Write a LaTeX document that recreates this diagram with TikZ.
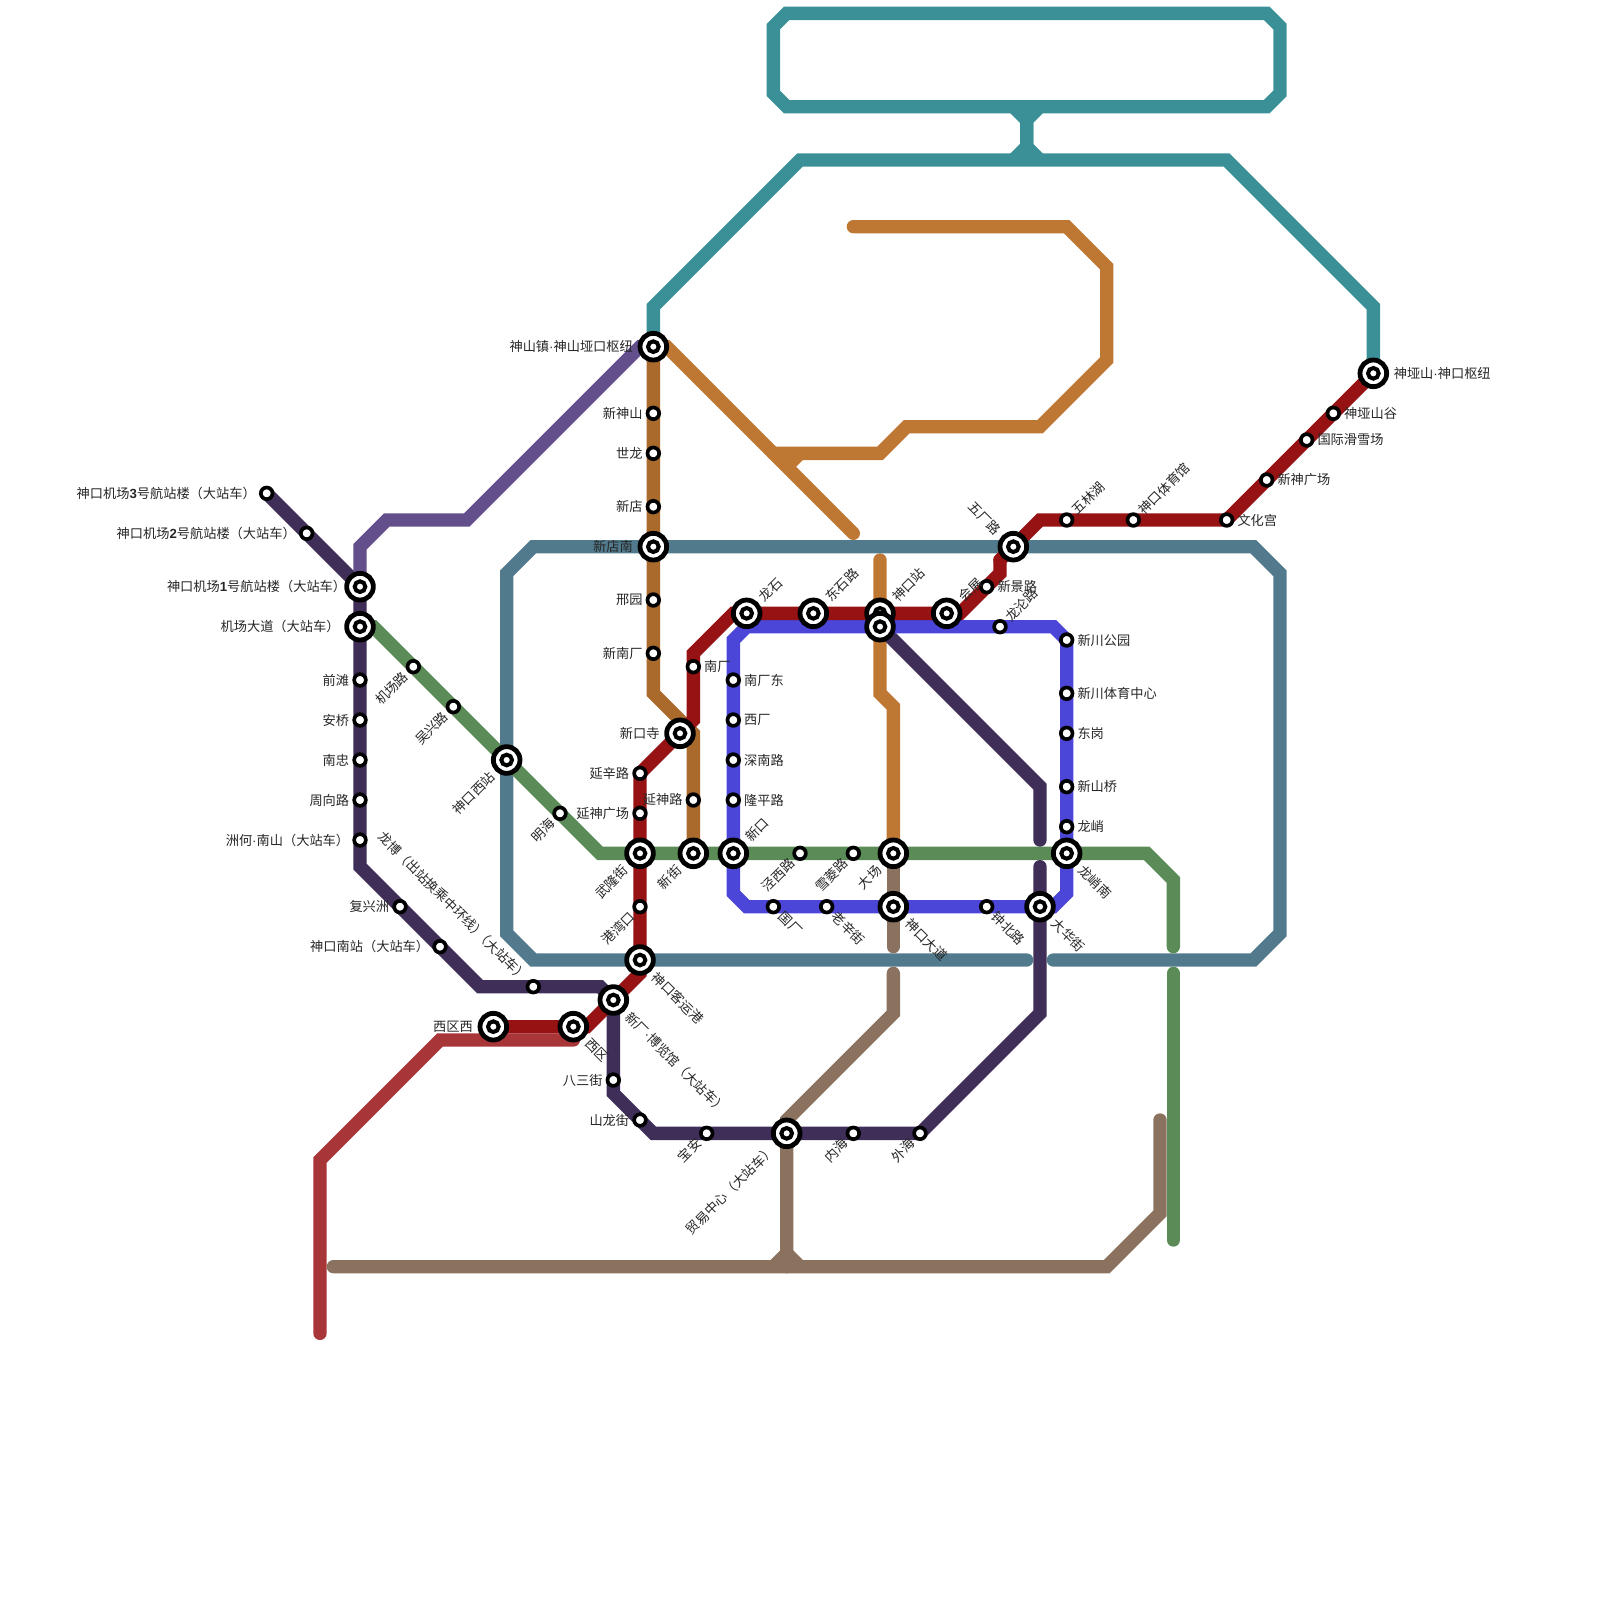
\documentclass[tikz,border=0pt]{standalone}
\usepackage{fontspec}
\setmainfont{Noto Sans CJK SC}
\newfontfamily\numfont{Liberation Sans}
\newcommand{\hn}[1]{{\numfont\bfseries #1}}
\newcommand{\hd}{{\numfont ·}}
\definecolor{cdark}{HTML}{3F2E58}
\definecolor{cviolet}{HTML}{624F8C}
\definecolor{cteal}{HTML}{3B9097}
\definecolor{cred}{HTML}{961213}
\definecolor{cslate}{HTML}{517A8D}
\definecolor{cbrown}{HTML}{A96A2B}
\definecolor{corange}{HTML}{BF7833}
\definecolor{cgray}{HTML}{8A725E}
\definecolor{cgreen}{HTML}{5B8C57}
\definecolor{cblue}{HTML}{4B45D8}
\definecolor{ccrim}{HTML}{A83638}
\tikzset{
    metro/.style={line width=.5cm,line cap=round,line join=miter},
    halt/.style={circle,draw=black,fill=white,line width=.1375cm,inner sep=0pt,outer sep=0pt,minimum size=.4375cm},
    hub/.style={circle,draw=black,fill=white,line width=.18cm,inner sep=0pt,outer sep=0pt,minimum size=1cm},
    hubc/.style={circle,draw=black,fill=white,line width=.15cm,inner sep=0pt,outer sep=0pt,minimum size=.4cm},
    lbl/.style={inner sep=0pt,text=black!85,font=\fontsize{14.1}{15}\selectfont},
    lblr/.style={lbl,anchor=west,xshift=\lblgap},
    lbll/.style={lbl,anchor=east,xshift=-\lblgap},
    lblur/.style={lbl,rotate=45,anchor=west,xshift=\lblgap},
    lbldl/.style={lbl,rotate=45,anchor=east,xshift=-\lblgap},
    lbldr/.style={lbl,rotate=-45,anchor=west,xshift=\lblgap},
    lblul/.style={lbl,rotate=-45,anchor=east,xshift=-\lblgap},
}
\begin{document}
\begin{tikzpicture}[x=.5cm,y=-.5cm]
    \useasboundingbox (0,0) rectangle (120,120);
    % stations
    \foreach \name/\pos in {jc3/{20,37},jc2/{23,40},jc1/{27,44},jcd/{27,47},qt/{27,51},aq/{27,54},nz/{27,57},zx/{27,60},zh/{27,63},
        fx/{30,68},kn/{33,71},lb/{40,74},xg/{46,75},bs/{46,81},sl/{48,84},ba/{53,85},my/{59,85},nh/{64,85},wh/{69,85},
        dh/{78,68},skb/{66,47},skt/{66,46},ssz/{49,26},syk/{103,28},sg/{100,31},gj/{98,33},xs/{95,36},wh2/{92,39},
        ty/{85,39},wl/{80,39},wc/{76,41},xj/{74,44},hz/{71,46},ds/{61,46},ls/{56,46},nc/{52,50},xk/{51,55},yx/{48,58},
        yg/{48,61},wj/{48,64},gw/{48,68},ky/{48,72},xq/{43,77},xx/{37,77},xd/{49,41},xsh/{49,31},sl2/{49,34},xdi/{49,38},
        xy/{49,45},xn/{49,49},ysl/{52,60},xjie/{52,64},jl/{31,50},wx/{34,53},kx/{38,57},mh/{42,61},xkou/{55,64},
        jx/{60,64},xl/{64,64},dc/{67,64},lxn/{80,64},ll/{75,47},xc/{80,48},xt/{80,52},dg/{80,55},xb/{80,59},lx/{80,62},
        zb/{74,68},kd/{67,68},lxj/{62,68},gc/{58,68},lp/{55,60},sn/{55,57},xc2/{55,54},nd/{55,51}}
        \coordinate (\name) at (\pos);
    % lines
    \draw[metro,cteal] (59,1)--(95,1)--(96,2)--(96,7)--(95,8)--(59,8)--(58,7)--(58,2)--cycle;
    \draw[metro,line cap=butt,cteal] (76,8)--(77,9)--(77,11)--(76,12);
    \draw[metro,line cap=butt,cteal] (78,8)--(77,9)--(77,11)--(78,12);
    \draw[metro,cteal] (ssz)--(49,23)--(60,12)--(92,12)--(103,23)--(syk);
    \draw[metro,cbrown] (ssz)--(49,52)--(52,55)--(xjie);
    \draw[metro,corange] (ssz)--(50,26)--(64,40);
    \draw[metro,corange] (64,17)--(80,17)--(83,20)--(83,27)--(78,32)--(68,32)--(66,34)--(58,34);
    \draw[metro,line cap=butt,corange] (60,34)--(59,35);
    \draw[metro,corange] (66,42)--(66,52)--(67,53)--(dc);
    \draw[metro,cslate] (79,72)--(94,72)--(96,70)--(96,43)--(94,41)--(40,41)--(38,43)--(38,70)--(40,72)--(77,72);
    \draw[metro,cgray] (dc)--(67,71);
    \draw[metro,cgray] (67,73)--(67,76)--(59,84)--(my)--(59,95);
    \draw[metro,cgray] (25,95)--(83,95)--(87,91)--(87,84);
    \draw[metro,line cap=butt,cgray] (58,95)--(59,94)--(60,95);
    \draw[metro,ccrim] (24,100)--(24,87)--(33,78)--(43,78);
    \draw[metro,cgreen] (jcd)--(28,47)--(45,64)--(86,64)--(88,66)--(88,71);
    \draw[metro,cgreen] (88,73)--(88,93);
    \draw[metro,cdark] (jc3)--(jc1)--(27,65)--(36,74)--(45,74)--(xg)--(46,82)--(49,85)--(wh)--(78,76)--(78,65);
    \draw[metro,cdark] (78,63)--(78,59)--(skb);
    \draw[metro,cviolet] (ssz)--(48,26)--(35,39)--(29,39)--(27,41)--(jc1);
    \draw[metro,cblue] (56,47)--(79,47)--(80,48)--(80,67)--(79,68)--(56,68)--(55,67)--(55,48)--cycle;
    \draw[metro,cred] (syk)--(wh2)--(78,39)--(75,42);
    \draw[metro,cred] (75,42)--(75,43)--(72,46)--(55,46)--(52,49)--(52,54)--(yx)--(ky)--(48,73)--(44,77)--(xx);
    % stations and labels
    \def\lblgap{.4cm}
    \foreach \name/\dir/\txt in {jc3/l/神口机场\hn{3}号航站楼（大站车）,jc2/l/神口机场\hn{2}号航站楼（大站车）,qt/l/前滩,aq/l/安桥,nz/l/南忠,zx/l/周向路,zh/l/洲何\hd 南山（大站车）,
        fx/l/复兴洲,kn/l/神口南站（大站车）,lb/ul/龙博（出站换乘中环线）\kern-.5em（大站车）,bs/l/八三街,sl/l/山龙街,ba/dl/宝安,nh/dl/内海,wh/dl/外海,
        sg/r/神垭山谷,gj/r/国际滑雪场,xs/r/新神广场,wh2/r/文化宫,ty/ur/神口体育馆,wl/ur/五林湖,xj/r/新景路,nc/r/南厂,yx/l/延辛路,yg/l/延神广场,gw/dl/港湾口,
        xsh/l/新神山,sl2/l/世龙,xdi/l/新店,xy/l/邢园,xn/l/新南厂,ysl/l/延神路,jl/dl/机场路,wx/dl/吴兴路,mh/dl/明海,jx/dl/泾西路,xl/dl/雪菱路,
        ll/ur/龙沦路,xc/r/新川公园,xt/r/新川体育中心,dg/r/东岗,xb/r/新山桥,lx/r/龙峭,zb/dr/钟北路,lxj/dr/老辛街,gc/dr/国厂,
        lp/r/隆平路,sn/r/深南路,xc2/r/西厂,nd/r/南厂东}{
        \node (\name-s) at (\name) [halt] {};
        \node (\name-t) at (\name) [lbl\dir] {\txt};
    }
    \def\lblgap{.76cm}
    \foreach \name/\dir/\txt in {jc1/l/神口机场\hn{1}号航站楼（大站车）\kern-.5em,jcd/l/机场大道（大站车）,xg/dr/新厂\hd 博览馆（大站车）,my/dl/贸易中心（大站车）,dh/dr/大华街,
        skt/ur/神口站,ssz/l/神山镇\hd 神山垭口枢纽,syk/r/神垭山\hd 神口枢纽,wc/ul/五厂路,hz/ur/会展,ds/ur/东石路,ls/ur/龙石,xk/l/新口寺,wj/dl/武隆街,ky/dr/神口客运港,
        xq/dr/西区,xx/l/西区西,xd/l/新店南,xjie/dl/新街,kx/dl/神口西站,xkou/ur/新口,dc/dl/大场,lxn/dr/龙峭南,kd/dr/神口大道,skb/ur/{}}{
        \node (\name-s) at (\name) [hub] {};
        \node (\name-c) at (\name) [hubc] {};
        \node (\name-t) at (\name) [lbl\dir] {\txt};
    }
\end{tikzpicture}
\end{document}
